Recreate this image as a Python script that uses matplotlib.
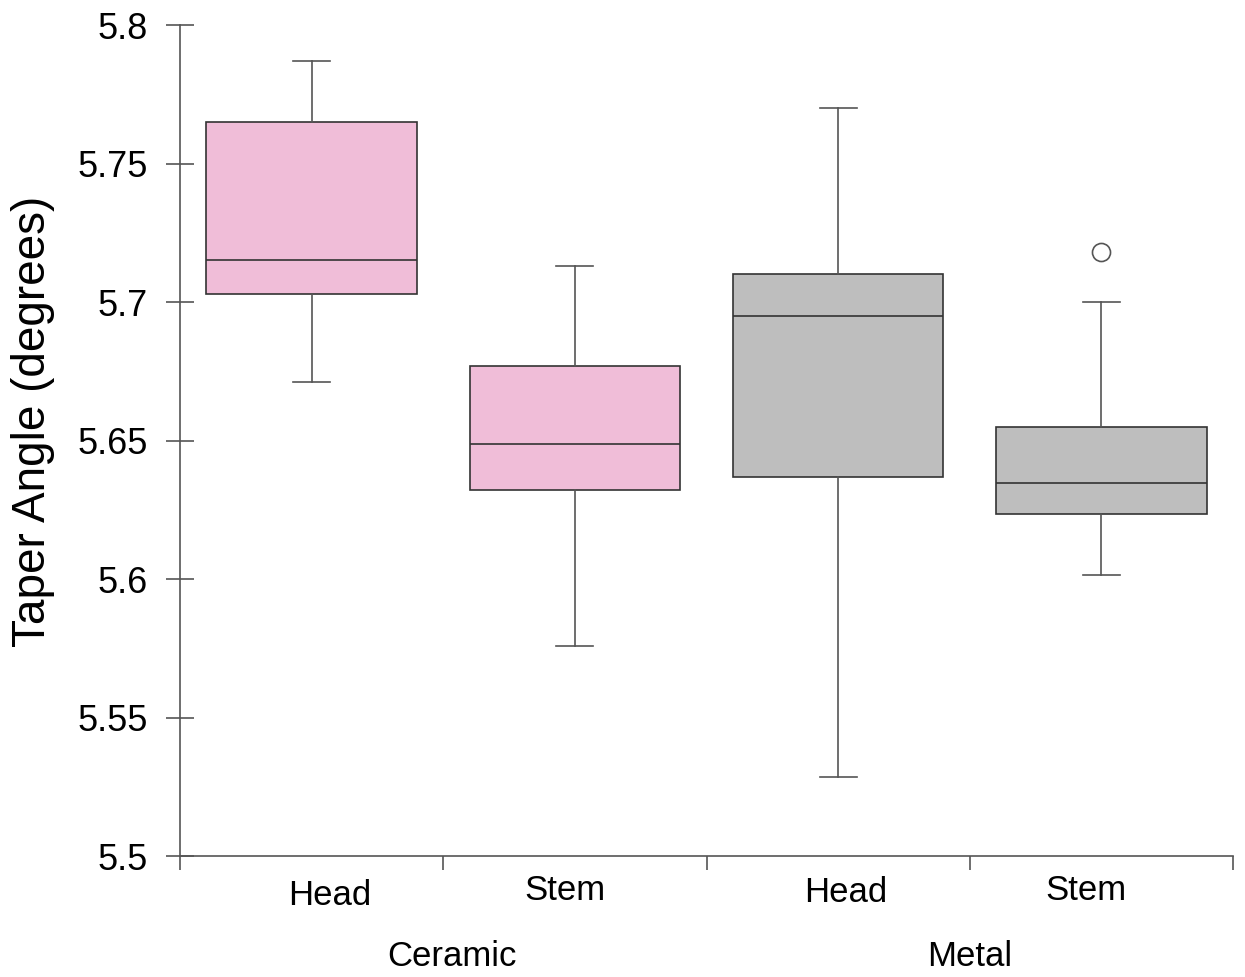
import matplotlib.pyplot as plt
from matplotlib.transforms import blended_transform_factory

# Datos (cinco numeros por caja)
grupos = ['Ceramic', 'Metal']
partes = ['Head', 'Stem', 'Head', 'Stem']
whis_bajo = [5.671, 5.576, 5.5285, 5.6014]
q1 = [5.703, 5.632, 5.637, 5.6235]
mediana = [5.715, 5.6487, 5.695, 5.6347]
q3 = [5.765, 5.677, 5.710, 5.655]
whis_alto = [5.787, 5.713, 5.770, 5.700]
atipicos = [[], [], [], [5.718]]
colores = ['#F0BDD8', '#F0BDD8', '#BEBEBE', '#BEBEBE']

y_ticks = [5.5, 5.55, 5.6, 5.65, 5.7, 5.75, 5.8]
y_labels = ['5.5', '5.55', '5.6', '5.65', '5.7', '5.75', '5.8']

plt.rcParams['font.family'] = ['Liberation Sans', 'DejaVu Sans']

fig = plt.figure(figsize=(12.45, 9.77), dpi=100)
ax = fig.add_axes([0.1446, 0.1238, 0.8458, 0.8506])

stats = []
for i in range(4):
    stats.append({'whislo': whis_bajo[i], 'q1': q1[i], 'med': mediana[i],
                  'q3': q3[i], 'whishi': whis_alto[i], 'fliers': atipicos[i]})

cajas = ax.bxp(stats, positions=range(4), widths=0.8, capwidths=0.14,
               patch_artist=True, showfliers=True,
               boxprops=dict(edgecolor='#333333', linewidth=1.2),
               medianprops=dict(color='#333333', linewidth=1.2),
               whiskerprops=dict(color='#555555', linewidth=1.2),
               capprops=dict(color='#555555', linewidth=1.2),
               flierprops=dict(marker='o', markersize=13, markerfacecolor='white',
                               markeredgecolor='#555555', markeredgewidth=1.2))
for caja, c in zip(cajas['boxes'], colores):
    caja.set_facecolor(c)

ax.set_xlim(-0.5, 3.5)
ax.set_ylim(5.5, 5.8)
ax.spines['top'].set_visible(False)
ax.spines['right'].set_visible(False)
for s in ['left', 'bottom']:
    ax.spines[s].set_color('#555555')
    ax.spines[s].set_linewidth(1.2)

ax.set_yticks(y_ticks)
ax.set_yticklabels(y_labels)
ax.tick_params(axis='y', direction='inout', length=20, width=1.2,
               color='#555555', labelsize=26, pad=13)
ax.set_xticks([-0.5, 0.5, 1.5, 2.5, 3.5])
ax.set_xticklabels([])
ax.tick_params(axis='x', direction='out', length=10, width=1.2, color='#555555')

ax.set_ylabel('Taper Angle (degrees)', fontsize=33, va='center')
ax.yaxis.set_label_coords(-0.14, 0.523)

trans = blended_transform_factory(ax.transData, ax.transAxes)
x_partes = [0.067, 0.964, 2.03, 2.94]
y_partes = [-0.047, -0.042, -0.044, -0.041]
for x, y, t in zip(x_partes, y_partes, partes):
    ax.text(x, y, t, transform=trans, ha='center', va='center', fontsize=25)
for x, t in zip([0.534, 2.5], grupos):
    ax.text(x, -0.121, t, transform=trans, ha='center', va='center', fontsize=25)

fig.savefig('out.png')
